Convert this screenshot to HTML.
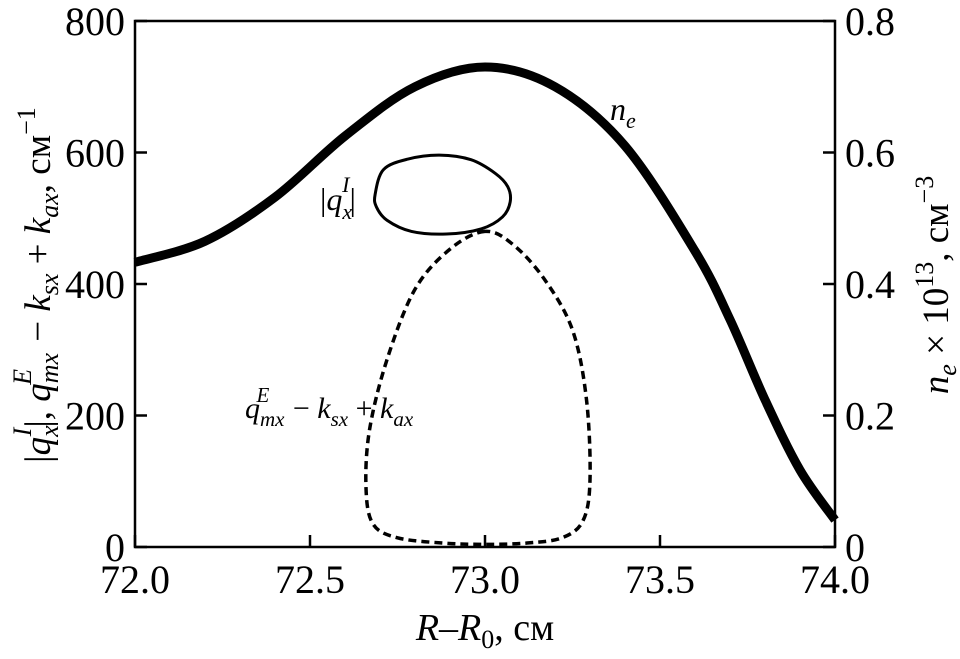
<!DOCTYPE html>
<html><head><meta charset="utf-8"><style>
body{margin:0;background:#fff}
svg text{font-family:"Liberation Serif",serif;fill:#000}
</style></head><body>
<svg id="chart" width="960" height="654" viewBox="0 0 960 654" xmlns="http://www.w3.org/2000/svg">
<g id="axes"></g>
<g id="series"></g>
<text x="610" y="120" font-size="32" font-style="italic">n<tspan font-size="22" dy="8">e</tspan></text>
<text x="320" y="210" font-size="32">|<tspan font-style="italic">q</tspan><tspan font-size="22" dy="9" font-style="italic">x</tspan><tspan font-size="22" dy="-27" dx="-10" font-style="italic">I</tspan><tspan dy="18">|</tspan></text>
<text x="245" y="418" font-size="30" font-style="italic">q<tspan font-size="21" dy="8">mx</tspan><tspan font-size="21" dy="-24" dx="-28">E</tspan><tspan dy="16" dx="16" font-style="normal"> − </tspan>k<tspan font-size="21" dy="8">sx</tspan><tspan dy="-8" font-style="normal"> + </tspan>k<tspan font-size="21" dy="8">ax</tspan></text>
<text x="485" y="640" font-size="38" text-anchor="middle"><tspan font-style="italic">R</tspan>–<tspan font-style="italic">R</tspan><tspan font-size="26" dy="8">0</tspan><tspan dy="-8">, см</tspan></text>
<text transform="translate(50,285) rotate(-90)" font-size="37" text-anchor="middle">|<tspan font-style="italic">q</tspan><tspan font-style="italic" font-size="26" dy="8">x</tspan><tspan font-style="italic" font-size="26" dy="-27" dx="-11">I</tspan><tspan dy="19">|, </tspan><tspan font-style="italic">q</tspan><tspan font-style="italic" font-size="26" dy="8">mx</tspan><tspan font-style="italic" font-size="26" dy="-27" dx="-32">E</tspan><tspan dy="19" dx="18"> − </tspan><tspan font-style="italic">k</tspan><tspan font-style="italic" font-size="26" dy="8">sx</tspan><tspan dy="-8"> + </tspan><tspan font-style="italic">k</tspan><tspan font-style="italic" font-size="26" dy="8">ax</tspan><tspan dy="-8">, см</tspan><tspan font-size="26" dy="-15">−1</tspan></text>
<text transform="translate(948,285) rotate(-90)" font-size="37" text-anchor="middle"><tspan font-style="italic">n</tspan><tspan font-style="italic" font-size="26" dy="8">e</tspan><tspan dy="-8"> × 10</tspan><tspan font-size="26" dy="-15">13</tspan><tspan dy="15">, см</tspan><tspan font-size="26" dy="-15">−3</tspan></text>
</svg>
<script>
const xTicks=[72.0,72.5,73.0,73.5,74.0];
const xTickLabels=["72.0","72.5","73.0","73.5","74.0"];
const yTicks=[0,200,400,600,800];
const yTickLabels=["0","200","400","600","800"];
const y2Ticks=[0,0.2,0.4,0.6,0.8];
const y2TickLabels=["0","0.2","0.4","0.6","0.8"];
const neX=[72.0,72.2,72.4,72.6,72.8,73.0,73.2,73.4,73.6,73.7,73.8,73.9,74.0];
const neY=[0.433,0.465,0.532,0.625,0.70,0.73,0.70,0.61,0.45,0.346,0.224,0.117,0.041];
const qIX=[72.686,72.71,72.78,72.87,72.96,73.03,73.065,73.072,73.05,72.99,72.89,72.79,72.72,72.69];
const qIY=[536,574,590,596,589,568,548,525,502,484,476,480,497,517];
const qEX=[73.0,72.9,72.8,72.72,72.67,72.66,72.68,72.75,72.88,73.0,73.12,73.22,73.28,73.3,73.29,73.25,73.17,73.08];
const qEY=[480,453,392,285,178,90,35,14,6,4,6,14,40,102,224,330,407,460];
const L=135,R=835,T=21,B=547;
const sx=v=>L+(v-72)/2*(R-L);
const sy=v=>B-v/800*(B-T);
const sy2=v=>B-v/0.8*(B-T);
const NS="http://www.w3.org/2000/svg";
function mk(t,a,p){const e=document.createElementNS(NS,t);for(const k in a)e.setAttribute(k,a[k]);p.appendChild(e);return e;}
const ax=document.getElementById('axes');
const fr=mk('rect',{x:L,y:T,width:R-L,height:B-T,fill:'none',stroke:'#000','stroke-width':2.5},ax);


xTicks.forEach((v,i)=>{const x=sx(v);
 const t=mk('line',{x1:x,y1:B,x2:x,y2:B-12,stroke:'#000','stroke-width':2.5},ax);
 
 
 const l=mk('text',{x:x,y:B+46,'font-size':40,'text-anchor':'middle'},ax);l.textContent=xTickLabels[i];
 
 });
yTicks.forEach((v,i)=>{const y=sy(v);
 const t=mk('line',{x1:L,y1:y,x2:L+12,y2:y,stroke:'#000','stroke-width':2.5},ax);
 
 
 const l=mk('text',{x:L-10,y:y+14,'font-size':40,'text-anchor':'end'},ax);l.textContent=yTickLabels[i];
 
 });
y2Ticks.forEach((v,i)=>{const y=sy2(v);
 const t=mk('line',{x1:R,y1:y,x2:R-12,y2:y,stroke:'#000','stroke-width':2.5},ax);
 
 
 const l=mk('text',{x:R+10,y:y+14,'font-size':40},ax);l.textContent=y2TickLabels[i];
 
 });
function cr(pts,closed){let d='';const n=pts.length;const g=i=>closed?pts[(i+n)%n]:pts[Math.max(0,Math.min(n-1,i))];
 d='M'+pts[0][0]+','+pts[0][1];const m=closed?n:n-1;
 for(let i=0;i<m;i++){const p0=g(i-1),p1=g(i),p2=g(i+1),p3=g(i+2);
  d+=' C'+(p1[0]+(p2[0]-p0[0])/6)+','+(p1[1]+(p2[1]-p0[1])/6)+' '+(p2[0]-(p3[0]-p1[0])/6)+','+(p2[1]-(p3[1]-p1[1])/6)+' '+p2[0]+','+p2[1];}
 return d+(closed?'Z':'');}
const se=document.getElementById('series');
const ne=mk('path',{d:cr(neX.map((v,i)=>[sx(v),sy2(neY[i])]),false),fill:'none',stroke:'#000','stroke-width':9},se);


const qi=mk('path',{d:cr(qIX.map((v,i)=>[sx(v),sy(qIY[i])]),true),fill:'none',stroke:'#000','stroke-width':3},se);


const qe=mk('path',{d:cr(qEX.map((v,i)=>[sx(v),sy(qEY[i])]),true),fill:'none',stroke:'#000','stroke-width':3.5,'stroke-dasharray':'8 5'},se);


</script>
</body></html>
